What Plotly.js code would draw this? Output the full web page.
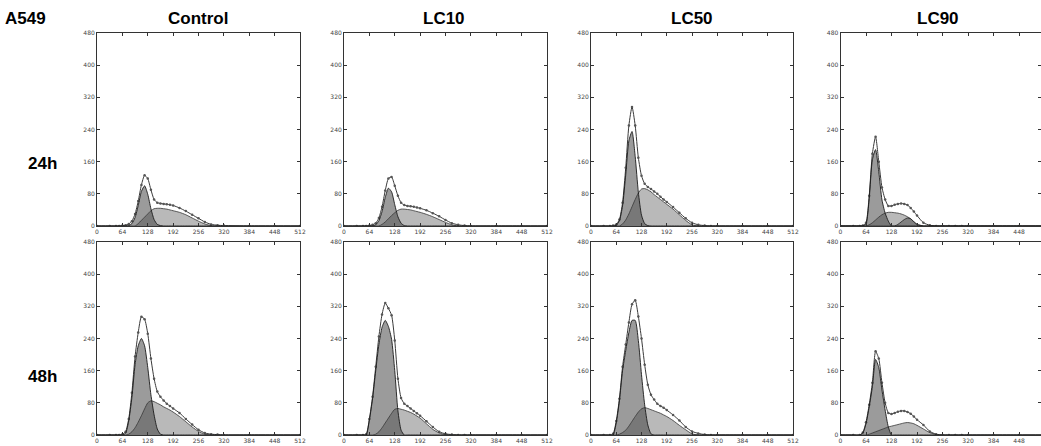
<!DOCTYPE html>
<html>
<head>
<meta charset="utf-8">
<script src="https://cdn.plot.ly/plotly-3.0.1.min.js"></script>
<style>html,body{margin:0;padding:0;background:#fff;}#chart{width:1041px;height:446px;}</style>
</head>
<body>
<div id="chart"></div>
<script>
// ---- data (DNA content channel vs. cell count) ----
const channels = [0,32,48,56,64,72,80,88,96,104,112,120,128,136,144,152,160,168,176,184,192,208,224,240,256,272,288,304,320,384,448,512];
const xTicks = [0,64,128,192,256,320,384,448,512];
const yTicks = [0,80,160,240,320,400,480];
const columnLabels = ['Control','LC10','LC50','LC90'];
const rowLabels = ['24h','48h'];
const cellLine = 'A549';

// 24h
const ctrl24Total = [0,0,0,0,1,2,5,12,30,62, 102,126,118,90,66,58,56,55,54,53, 51,45,37,28,19,10,4,2,1,0, 0,0];
const ctrl24G1    = [0,0,0,0,0,0,1,6,21,51, 86,100,79,43,16,4,1,0,0,0, 0,0,0,0,0,0,0,0,0,0, 0,0];
const ctrl24S     = [0,0,0,0,0,0,0,0,0,6, 14,22,30,38,43,44,44,43,42,40, 38,34,28,20,12,5,1,0,0,0, 0,0];

const lc10_24Total = [0,0,0,0,1,3,7,20,48,88, 118,122,100,75,58,52,50,49,48,46, 44,39,32,24,15,7,3,1,0,0, 0,0];
const lc10_24G1    = [0,0,0,0,0,0,3,13,36,71, 94,85,53,23,7,1,0,0,0,0, 0,0,0,0,0,0,0,0,0,0, 0,0];
const lc10_24S     = [0,0,0,0,0,0,0,0,4,10, 18,26,33,39,42,42,41,40,38,36, 34,29,23,16,9,3,0,0,0,0, 0,0];

const lc50_24Total = [0,0,0,1,4,16,58,145,250,296, 250,170,125,105,97,92,86,80,73,66, 60,47,33,19,8,3,1,0,0,0, 0,0];
const lc50_24G1    = [0,0,0,0,2,13,50,127,212,235, 173,84,27,6,1,0,0,0,0,0, 0,0,0,0,0,0,0,0,0,0, 0,0];
const lc50_24S     = [0,0,0,0,0,0,5,15,30,48, 66,82,92,93,90,85,78,72,66,60, 54,42,28,14,3,0,0,0,0,0, 0,0];

const lc90_24Total = [0,0,0,1,8,75,180,222,160,96, 66,50,50,53,55,56,55,52,45,36, 26,8,2,0,0,0,0,0,0,0, 0,0];
const lc90_24G1    = [0,0,0,0,5,68,165,190,135,65, 32,12,0,0,0,0,0,0,0,0, 0,0,0,0,0,0,0,0,0,0, 0,0];
const lc90_24S     = [0,0,0,0,0,3,8,15,22,28, 32,34,34,33,32,30,27,23,18,11, 5,0,0,0,0,0,0,0,0,0, 0,0];
const lc90_24G2    = [0,0,0,0,0,0,0,0,0,0, 0,0,0,0,4,10,16,20,18,10, 3,0,0,0,0,0,0,0,0,0, 0,0];

// 48h
const ctrl48Total = [0,0,0,0,2,8,40,105,195,255, 294,288,252,190,140,108,95,86,78,72, 66,55,40,26,13,5,2,1,0,0, 0,0];
const ctrl48G1    = [0,0,0,0,0,4,35,93,175,222, 240,222,168,100,50,15,2,0,0,0, 0,0,0,0,0,0,0,0,0,0, 0,0];
const ctrl48S     = [0,0,0,0,0,0,2,8,18,32, 48,65,80,85,83,79,75,70,66,62, 57,46,33,20,9,2,0,0,0,0, 0,0];

const lc10_48Total = [0,0,0,2,40,95,170,245,300,328, 315,298,235,140,92,78,72,66,60,54, 48,34,20,8,3,1,0,0,0,0, 0,0];
const lc10_48G1    = [0,0,0,0,37,90,160,225,268,285, 270,238,160,60,12,0,0,0,0,0, 0,0,0,0,0,0,0,0,0,0, 0,0];
const lc10_48S     = [0,0,0,0,0,0,2,8,18,30, 42,54,64,66,64,62,59,56,52,47, 42,28,14,5,1,0,0,0,0,0, 0,0];

const lc50_48Total = [0,0,0,3,35,90,170,225,280,325, 335,295,240,175,125,100,88,78,72,68, 62,50,36,20,9,4,1,0,0,0, 0,0];
const lc50_48G1    = [0,0,0,0,30,85,160,210,255,285, 285,235,150,75,25,3,0,0,0,0, 0,0,0,0,0,0,0,0,0,0, 0,0];
const lc50_48S     = [0,0,0,0,0,2,6,12,22,34, 46,57,65,68,66,63,60,57,54,50, 46,36,24,13,3,0,0,0,0,0, 0,0];

const lc90_48Total = [0,0,0,6,32,75,130,208,190,130, 80,55,52,55,58,60,60,57,53,46, 38,25,9,2,0,0,0,0,0,0, 0,0];
const lc90_48G1    = [0,0,0,5,28,70,120,188,168,112, 62,20,0,0,0,0,0,0,0,0, 0,0,0,0,0,0,0,0,0,0, 0,0];
const lc90_48S     = [0,0,0,0,0,2,5,8,11,14, 17,20,22,24,26,28,30,31,30,28, 24,15,6,1,0,0,0,0,0,0, 0,0];

// ---- layout geometry ----
const W = 1041, H = 446;
const colPx = [[97,300],[344,547],[591,793],[840.5,1041]];
const rowPx = [[33,226],[242,435]];
const xMax = [512,512,512,503];

const panels = [
  {row:0,col:0,total:ctrl24Total,g1:ctrl24G1,s:ctrl24S},
  {row:0,col:1,total:lc10_24Total,g1:lc10_24G1,s:lc10_24S},
  {row:0,col:2,total:lc50_24Total,g1:lc50_24G1,s:lc50_24S},
  {row:0,col:3,total:lc90_24Total,g1:lc90_24G1,s:lc90_24S,g2:lc90_24G2},
  {row:1,col:0,total:ctrl48Total,g1:ctrl48G1,s:ctrl48S},
  {row:1,col:1,total:lc10_48Total,g1:lc10_48G1,s:lc10_48S},
  {row:1,col:2,total:lc50_48Total,g1:lc50_48G1,s:lc50_48S},
  {row:1,col:3,total:lc90_48Total,g1:lc90_48G1,s:lc90_48S}
];

const traces = [];
const layout = {
  width: W, height: H,
  margin: {l:0,r:0,t:0,b:0},
  paper_bgcolor: '#fff', plot_bgcolor: '#fff',
  showlegend: false,
  font: {family: 'Liberation Sans, Arial, sans-serif', color: '#000'},
  annotations: []
};

const lineSpec = {shape:'spline', smoothing:0.6};

panels.forEach((p, i) => {
  const n = i + 1;
  const xa = 'x' + (n === 1 ? '' : n), ya = 'y' + (n === 1 ? '' : n);
  const common = {x: channels, xaxis: xa, yaxis: ya, hoverinfo: 'skip', fill: 'tozeroy'};
  traces.push(Object.assign({}, common, {
    y: p.total, mode: 'lines+markers', fillcolor: '#ffffff',
    line: Object.assign({color:'#3a3a3a', width:1}, lineSpec),
    marker: {size: 2.5, color: '#555'}
  }));
  traces.push(Object.assign({}, common, {
    y: p.s, mode: 'lines', fillcolor: 'rgba(80,80,80,0.40)',
    line: Object.assign({color:'#333', width:0.8}, lineSpec)
  }));
  if (p.g2) {
    traces.push(Object.assign({}, common, {
      y: p.g2, mode: 'lines', fillcolor: 'rgba(50,50,50,0.42)',
      line: Object.assign({color:'#222', width:0.8}, lineSpec)
    }));
  }
  traces.push(Object.assign({}, common, {
    y: p.g1, mode: 'lines', fillcolor: 'rgba(55,55,55,0.50)',
    line: Object.assign({color:'#1a1a1a', width:0.9}, lineSpec)
  }));

  const cx = colPx[p.col], ry = rowPx[p.row];
  const tickFont = {size: 6, color: '#444', family: 'DejaVu Sans, sans-serif'};
  layout['xaxis' + (n === 1 ? '' : n)] = {
    domain: [cx[0]/W, cx[1]/W], range: [0, xMax[p.col]], anchor: ya,
    tickmode: 'array', tickvals: xTicks, ticktext: xTicks.map(String),
    ticks: 'inside', ticklen: 3, tickwidth: 1, tickcolor: '#333',
    showline: true, linecolor: '#333', linewidth: 1, mirror: 'ticks',
    showgrid: false, zeroline: false, tickfont: tickFont, fixedrange: true
  };
  layout['yaxis' + (n === 1 ? '' : n)] = {
    domain: [1 - ry[1]/H, 1 - ry[0]/H], range: [0, 480], anchor: xa,
    tickmode: 'array', tickvals: yTicks, ticktext: yTicks.map(String),
    ticks: 'inside', ticklen: 3, tickwidth: 1, tickcolor: '#333',
    showline: true, linecolor: '#333', linewidth: 1, mirror: 'ticks',
    showgrid: false, zeroline: false, tickfont: tickFont, fixedrange: true
  };
});

const titleFont = {family: 'Liberation Sans, Arial, sans-serif', size: 17, color: '#000', weight: 'bold'};
function addText(text, px, py) {
  layout.annotations.push({
    text: '<b>' + text + '</b>', x: px / W, y: 1 - py / H, xref: 'paper', yref: 'paper',
    xanchor: 'center', yanchor: 'middle', showarrow: false, font: titleFont
  });
}
addText(cellLine, 25, 18);
const colCenters = [198, 444, 692, 938];
columnLabels.forEach((t, i) => addText(t, colCenters[i], 18));
const rowCenters = [163, 376];
rowLabels.forEach((t, i) => addText(t, 42, rowCenters[i]));

Plotly.newPlot('chart', traces, layout, {displayModeBar: false, staticPlot: true});
</script>
</body>
</html>
